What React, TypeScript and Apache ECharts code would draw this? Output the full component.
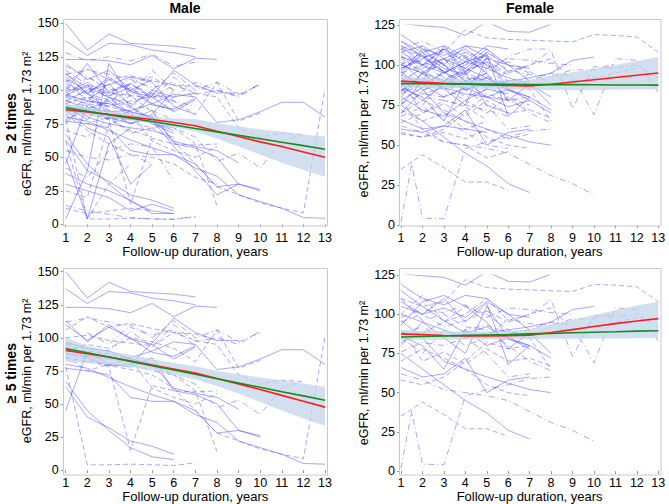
import React, { useEffect, useRef } from "react";
import * as echarts from "echarts";

type Pt = [number, number];

// ---------- individual trajectories (follow-up year, eGFR) ----------
const male5Lines: Pt[][] = [
  [[1,150],[2,130],[3,142],[4,135],[5,134],[6,133],[7,131]],
  [[1,137],[2,126],[3,135],[4,134],[5,130],[6,128],[7,125]],
  [[1,123],[2,123],[3,122],[4,119],[5,126],[6,116],[7,124],[8,123]],
  [[1,113],[2,97],[3,110],[4,99],[5,95],[6,84],[7,93]],
  [[1,110],[2,98],[3,108],[4,100],[5,89],[6,86],[7,94]],
  [[1,106],[2,116],[3,108],[4,111],[5,107],[6,104],[7,103],[8,98]],
  [[2,104],[3,95],[4,110],[5,100],[6,113],[7,100],[8,106],[9,97],[10,104]],
  [[1,90],[2,95],[3,92],[4,100],[5,97],[6,92],[7,82],[8,106],[9,77],[10,83]],
  [[1,88],[2,86],[3,84],[4,85],[5,90],[6,97],[7,95],[8,76],[9,78],[10,84],[11,91],[12,91],[13,80]],
  [[1,80],[2,77],[3,70],[4,63],[5,57],[6,52],[7,42],[8,36],[9,22],[10,17],[11,12],[12,5],[13,4.5]],
  [[1,85],[2,82],[3,79],[4,76],[5,72],[6,62],[7,45],[8,28],[9,22],[10,16],[11,12],[12,8.5],[13,101]],
  [[1,92],[2,88],[3,85],[4,80],[5,75],[6,72],[7,65],[8,47],[9,53],[10,42],[11,62],[12,67]],
  [[1,95],[2,90],[3,88],[4,84],[5,80],[6,72],[7,60],[8,14]],
  [[1,67],[2,45],[3,30],[4,17],[5,10],[6,8]],
  [[1,78],[2,4],[3,4],[4,4.5],[5,4],[6,3.5],[7,5.5]],
  [[1,63],[2,40],[3,32],[4,22],[5,18],[6,12]],
  [[1,88],[2,84],[3,78],[4,15],[5,64],[6,60],[7,59],[8,60]],
  [[1,77],[2,75],[3,72],[4,55],[5,52],[6,52],[7,45],[8,28],[9,30],[10,25]],
  [[1,96],[2,92],[3,90],[4,105],[5,93],[6,110],[7,97],[8,100],[9,95],[10,105]],
  [[1,100],[2,102],[3,98],[4,96],[5,94],[6,104],[7,98],[8,95],[9,72],[10,65],[11,68],[12,67]],
  [[1,45],[2,90],[3,80],[4,78],[5,85],[6,60],[7,57],[8,50],[9,30],[10,26]],
  [[1,97],[2,92],[3,90],[4,84],[5,80],[6,62],[7,58],[8,55],[9,46]],
  [[1,112],[2,115],[3,112],[4,108],[5,102],[6,106],[7,94]],
  [[1,93],[2,85],[3,79],[4,80],[5,96],[6,115],[7,104],[8,98],[9,98]],
  [[1,86],[2,75],[3,80],[4,84],[5,62],[6,55],[7,50],[8,58]],
];
const male5Dash = [0,0,0,0,0,1,2,1,0,0,1,2,1,0,1,0,1,0,2,1,0,0,2,0,1];

const male2Extra: Pt[][] = [
  [[1,128],[2,122],[3,125],[4,122],[5,127],[6,118],[7,121]],
  [[1,4],[2,40],[3,120],[4,95]],
  [[1,12],[2,8],[3,10],[4,12],[5,10]],
  [[1,14],[2,10],[4,5],[5,4],[6,4],[7,6]],
  [[1,38],[2,30],[3,25],[4,18],[5,8],[6,8]],
  [[1,50],[2,4],[3,60],[4,72]],
  [[1,62],[2,4],[3,30],[4,45]],
  [[1,100],[2,120],[3,98],[4,105],[5,95]],
  [[1,118],[2,110],[3,102],[4,96],[5,115],[6,100]],
  [[1,105],[2,98],[3,85],[4,75],[5,80]],
  [[1,95],[2,110],[3,100],[4,105],[5,110],[6,100]],
  [[1,90],[2,80],[3,75],[4,72],[5,70],[6,65]],
  [[1,108],[2,100],[3,95],[4,90],[5,85],[6,78]],
  [[1,75],[2,92],[3,105],[4,88],[5,100],[6,95],[7,98]],
  [[1,82],[2,70],[3,60],[4,52],[5,50],[6,45],[7,35],[8,30]],
  [[1,30],[2,25],[3,20],[4,10],[5,15],[6,10]],
  [[1,55],[2,50],[3,48],[4,52],[5,45]],
  [[1,112],[2,102],[3,95],[4,82],[5,75],[6,68]],
  [[1,99],[2,88],[3,78],[4,70],[5,65]],
  [[1,85],[2,72],[3,65],[4,30],[5,45]],
  [[1,102],[2,94],[3,88],[4,92],[5,96],[6,90]],
  [[1,120],[2,108],[3,115],[4,100],[5,108]],
  [[1,70],[2,65],[3,80],[4,68],[5,72],[6,75]],
  [[1,92],[2,100],[3,104],[4,110],[5,106],[6,88],[7,82]],
  [[1,42],[2,35],[3,55],[4,60],[5,58],[6,32]],
  [[1,96],[2,104],[3,80],[4,75],[5,82],[6,100]],
  [[1,25],[2,20],[3,75],[4,80]],
  [[5,80],[6,95],[7,106],[8,100],[9,96],[10,105]],
  [[1,88],[2,78],[3,95],[4,88],[5,78],[6,58],[7,40],[8,22],[9,30]],
  [[1,103],[2,97],[3,93],[4,87],[5,78]],
  [[1,98],[2,106],[3,96],[4,102],[5,90],[6,85]],
  [[1,84],[2,94],[3,100],[4,90],[5,98],[6,92],[7,88]],
  [[1,108],[2,92],[3,88],[4,96],[5,84]],
  [[1,78],[2,86],[3,92],[4,80],[5,76],[6,70]],
  [[1,115],[2,104],[3,99],[4,104],[5,98],[6,94]],
];
const male2ExtraDash = [2,0,1,2,0,0,1,0,2,0,1,0,2,0,1,0,2,0,1,0,2,0,1,0,2,0,1,2,0,1,0,2,1,0,2];

const female5Lines: Pt[][] = [
  [[1,126],[2,124.5],[3,123.5],[4,118.5],[5,127],[6,121],[7,120.5],[8,125.5]],
  [[1,110],[2,105],[3,108],[4,122],[5,117],[6,116],[7,115.5],[8,115],[9,114.5],[10,119],[11,118.5],[12,117.5],[13,108]],
  [[1,2],[1.5,38],[2,4.5],[3,4],[4,48],[5,52],[6,55],[7,59],[8,60]],
  [[1,35],[2,44],[3,36],[4,27],[5,27],[6,22]],
  [[1,62],[2,58],[3,52],[4,50],[5,48],[6,45],[7,38],[8,31],[9,26],[10,19]],
  [[1,75],[2,65],[3,55],[4,45],[5,37],[6,26],[7,20.5]],
  [[1,95],[2,100],[3,92],[4,96],[5,102],[6,95],[7,100],[8,109],[9,73],[10,99],[11,98],[12,100],[13,92]],
  [[1,88],[2,92],[3,85],[4,90],[5,93],[6,88],[7,90],[8,95],[9,93],[10,69],[11,104],[12,103],[13,83]],
  [[1,119],[2,110],[3,106],[4,112],[5,110],[6,100],[7,98]],
  [[1,105],[2,100],[3,110],[4,95],[5,107],[6,68],[7,80],[8,72]],
  [[1,100],[2,112],[3,95],[4,105],[5,100],[6,90],[7,85],[8,65]],
  [[1,80],[2,95],[3,85],[4,75],[5,105],[6,85],[7,80]],
  [[1,85],[2,75],[3,90],[4,80],[5,85],[6,97],[7,94],[8,93],[9,97],[10,97],[11,101]],
  [[1,96],[2,85],[3,70],[4,65],[5,60],[6,56],[7,52],[8,50]],
  [[1,70],[2,78],[3,72],[4,65],[5,55],[6,50],[7,48]],
  [[1,93],[2,108],[3,112],[4,105],[5,95],[6,78],[7,88],[8,75]],
  [[1,76],[2,82],[3,80],[4,85],[5,75],[6,60],[7,62]],
  [[1,108],[2,100],[3,104],[4,98],[5,108],[6,100],[7,90]],
  [[1,58],[2,55],[3,60],[4,70],[5,82],[6,78],[7,80]],
  [[1,86],[2,80],[3,65],[4,90],[5,80],[6,85],[7,78]],
  [[1,98],[2,103],[3,101],[4,106],[5,98],[6,104],[7,103],[8,101],[9,100]],
  [[1,115],[2,105],[3,96],[4,88],[5,92],[6,84],[7,80]],
  [[1,82],[2,88],[3,95],[4,100],[5,110],[6,96],[7,100],[8,104],[9,90],[10,92],[11,95],[12,98]],
  [[1,66],[2,60],[3,62],[4,72],[5,50],[6,58],[7,60]],
  [[1,110],[2,96],[3,100],[4,92],[5,90],[6,80],[7,70],[8,64]],
  [[1,90],[2,70],[3,76],[4,68],[5,78],[6,70],[7,72],[8,67]],
  [[1,100],[2,95],[3,90],[4,85],[5,88],[6,90],[7,92],[8,95],[9,103],[10,105]],
];
const female5Dash = [0,1,2,1,2,0,2,2,0,0,1,0,2,0,1,0,2,0,1,0,2,0,1,0,2,1,0];

const female2Extra: Pt[][] = [
  [[1,60],[2,58],[3,62],[4,60],[5,58]],
  [[1,57],[2,55],[3,58],[4,54],[5,60],[6,54],[7,57]],
  [[1,110],[2,115],[3,108],[4,100],[5,104]],
  [[1,95],[2,110],[3,100],[4,112],[5,105]],
  [[1,72],[2,65],[3,70],[4,60],[5,65]],
  [[1,102],[2,90],[3,112],[4,96],[5,108]],
  [[1,85],[2,80],[3,78],[4,75],[5,72],[6,68]],
  [[1,115],[2,108],[3,100],[4,90],[5,95]],
  [[1,90],[2,98],[3,104],[4,95],[5,90],[6,85]],
  [[1,75],[2,90],[3,86],[4,82],[5,80],[6,78]],
  [[1,100],[2,95],[3,85],[4,100],[5,110]],
  [[1,80],[2,72],[3,68],[4,78],[5,85],[6,82]],
  [[1,105],[2,102],[3,96],[4,108],[5,104],[6,100],[7,95]],
  [[1,88],[2,78],[3,88],[4,95],[5,75],[6,70]],
  [[1,68],[2,74],[3,66],[4,58],[5,50],[6,48]],
  [[1,97],[2,106],[3,95],[4,102],[5,98],[6,92],[7,88],[8,80]],
  [[1,78],[2,60],[3,52],[4,50],[5,42],[6,46]],
  [[1,108],[2,112],[3,104],[4,110],[5,100]],
  [[1,92],[2,84],[3,92],[4,88],[5,95],[6,105],[7,110],[8,110]],
  [[1,83],[2,95],[3,104],[4,90],[5,86],[6,90]],
  [[1,64],[2,70],[3,78],[4,74],[5,66]],
  [[1,112],[2,100],[3,95],[4,102],[5,112],[6,110]],
  [[1,87],[2,100],[3,110],[4,104],[5,96]],
  [[1,94],[2,88],[3,80],[4,86],[5,80],[6,74],[7,78],[8,70]],
  [[1,104],[2,96],[3,90],[4,96],[5,102],[6,84],[7,95]],
  [[1,98],[2,104],[3,110],[4,102],[5,106],[6,96]],
  [[1,84],[2,92],[3,80],[4,94],[5,88],[6,78],[7,72]],
  [[1,106],[2,94],[3,102],[4,108],[5,100],[6,94]],
  [[1,78],[2,86],[3,96],[4,84],[5,92],[6,86]],
  [[1,112],[2,106],[3,98],[4,94],[5,104]],
  [[1,90],[2,82],[3,86],[4,78],[5,70],[6,80],[7,75]],
  [[1,100],[2,108],[3,92],[4,86],[5,98],[6,102],[7,96],[8,88]],
  [[1,70],[2,84],[3,90],[4,98],[5,92]],
];
const female2ExtraDash = [0,1,2,0,1,0,2,0,1,0,2,0,1,0,2,0,1,0,2,0,1,0,2,0,1,0,2,1,0,0,1,2,0];

// ---------- fitted curves and confidence bands ----------
const years = [1,2,3,4,5,6,7,8,9,10,11,12,13];

const male2Red = [85.5,83.8,82,80,78.2,76,73.5,69.5,65.5,61.5,58,54,50];
const male2Green = [87,84.4,81.8,79.2,76.7,74.1,71.5,69,66.4,63.8,61.2,58.7,56];
const male2Lo = [82,81,79.5,77.5,75.5,72.5,69,64,58,52,46,40.5,35.5];
const male2Hi = [90,87,84.5,82.5,80.5,79,78.5,75.5,73,71,69,67,65.5];

const female2Red = [90,89.2,88.6,88.1,87.6,87.2,87,88,89.4,90.8,92.2,93.6,95];
const female2Green = [88.4,88.3,88.2,88.1,88.1,88,87.9,87.8,87.8,87.7,87.6,87.6,87.5];
const female2Lo = [86,85.8,85.5,85.3,85,84.8,84.5,84.5,84.5,84.5,84.6,84.7,84.8];
const female2Hi = [93,92,91.5,91,90.5,90.3,90.5,93.5,95.5,97.5,100,102.5,105];

const male5Red = [90.5,88,85.5,82.5,79.5,76.5,73.3,69.3,65.2,61,56.5,52,47.6];
const male5Green = [92,88.7,85.5,82.2,78.9,75.7,72.4,69.1,65.9,62.6,59.3,56.1,52.8];
const male5Lo = [82,81,80,78,75.5,72,68.5,63.5,58,51.5,45,39,33.5];
const male5Hi = [100,94,90,87,84,81,78.5,75,72.5,70,68,65.5,63];

const female5Red = [87.5,87,86.4,86.2,86.2,86.3,86.7,88.3,90.2,92.2,94,95.7,97.2];
const female5Green = [85.5,85.8,86.1,86.5,86.8,87.1,87.5,87.8,88.2,88.5,88.8,89.2,89.5];
const female5Lo = [83.5,83.7,83.8,84,84,84.1,84.2,84.3,84.4,84.5,84.6,84.7,84.8];
const female5Hi = [90,89.5,89.2,89,89,89.3,90.3,93.5,96.5,99.5,102.5,105.5,108];

const FONT = "'Liberation Sans', Arial, Helvetica, sans-serif";
const LINE = "rgba(60,60,255,0.45)";
const BAND = "rgba(192,210,233,0.72)";
const DASHES: any[] = ["solid", [5, 3], [6, 3, 1, 3]];

// panel geometry (pixel layout)
const panels = [
  { left: 65.7, top: 23.3, width: 259.3, height: 201, max: 150, frame: [63.5, 19.5, 264, 206.5], xOff: 2, yOff: 2, nameGapY: 26, lblMargin: 5, nameGapX: 16 },
  { left: 401, top: 25, width: 257.3, height: 200.3, max: 125, frame: [399.5, 19.5, 261.5, 206.5], xOff: 1, yOff: 1, nameGapY: 22, lblMargin: 5, nameGapX: 16 },
  { left: 65.7, top: 271.7, width: 259.3, height: 201.6, max: 150, frame: [63.5, 268.5, 264, 206.5], xOff: 2, yOff: 2, nameGapY: 26, lblMargin: 4, nameGapX: 15.5 },
  { left: 401, top: 275, width: 257.3, height: 199, max: 125, frame: [399.5, 268.5, 261.5, 206.5], xOff: 1, yOff: 1, nameGapY: 22, lblMargin: 4, nameGapX: 15.5 },
];

function spaghetti(lines: Pt[][], dash: number[], gi: number) {
  return lines.map((p, i) => ({
    type: "line",
    xAxisIndex: gi,
    yAxisIndex: gi,
    data: p,
    symbol: "none",
    silent: true,
    z: 2,
    lineStyle: { width: 1, color: LINE, type: DASHES[dash[i] ?? 0] },
  }));
}

function band(lo: number[], hi: number[], gi: number) {
  return {
    type: "custom",
    xAxisIndex: gi,
    yAxisIndex: gi,
    silent: true,
    z: 3,
    data: [[1, 0]],
    renderItem: (_params: any, api: any) => {
      const up = years.map((x, i) => api.coord([x, hi[i]]));
      const dn = years.map((x, i) => api.coord([x, lo[i]])).reverse();
      return { type: "polygon", shape: { points: up.concat(dn) }, style: { fill: BAND } };
    },
  };
}

function fit(vals: number[], color: string, gi: number) {
  return {
    type: "line",
    xAxisIndex: gi,
    yAxisIndex: gi,
    data: years.map((x, i) => [x, vals[i]]),
    symbol: "none",
    silent: true,
    z: 4,
    lineStyle: { width: 1.6, color },
  };
}

export default function App() {
  const ref = useRef<HTMLDivElement>(null);
  useEffect(() => {
    if (!ref.current) return;
    const chart = echarts.init(ref.current, undefined, { renderer: "svg" });

    const male2 = male5Lines.concat(male2Extra);
    const male2Dash = male5Dash.concat(male2ExtraDash);
    const female2 = female5Lines.concat(female2Extra);
    const female2Dash = female5Dash.concat(female2ExtraDash);

    const series: any[] = [
      ...spaghetti(male2, male2Dash, 0),
      ...spaghetti(female2, female2Dash, 1),
      ...spaghetti(male5Lines, male5Dash, 2),
      ...spaghetti(female5Lines, female5Dash, 3),
      band(male2Lo, male2Hi, 0),
      band(female2Lo, female2Hi, 1),
      band(male5Lo, male5Hi, 2),
      band(female5Lo, female5Hi, 3),
      fit(male2Red, "#ff1c1c", 0), fit(male2Green, "#1a8a1a", 0),
      fit(female2Red, "#ff1c1c", 1), fit(female2Green, "#1a8a1a", 1),
      fit(male5Red, "#ff1c1c", 2), fit(male5Green, "#1a8a1a", 2),
      fit(female5Red, "#ff1c1c", 3), fit(female5Green, "#1a8a1a", 3),
    ];

    const grid = panels.map((p) => ({ left: p.left, top: p.top, width: p.width, height: p.height, containLabel: false }));
    const xAxis = panels.map((p, i) => ({
      gridIndex: i, type: "value", min: 1, max: 13, interval: 1, offset: p.xOff,
      axisLine: { show: false },
      axisTick: { show: true, length: 3, lineStyle: { color: "#9a9a9a" } },
      axisLabel: { fontSize: 12.5, color: "#000", margin: p.lblMargin, fontFamily: FONT },
      splitLine: { show: false },
      name: "Follow-up duration, years", nameLocation: "middle", nameGap: p.nameGapX,
      nameTextStyle: { fontSize: 13, color: "#000", fontFamily: FONT },
    }));
    const yAxis = panels.map((p, i) => ({
      gridIndex: i, type: "value", min: 0, max: p.max, interval: 25, offset: p.yOff,
      axisLine: { show: false },
      axisTick: { show: true, length: 3, lineStyle: { color: "#9a9a9a" } },
      axisLabel: { fontSize: 12.5, color: "#000", margin: 5, fontFamily: FONT },
      splitLine: { show: false },
      name: "eGFR, ml/min per 1.73 m²", nameLocation: "middle", nameGap: p.nameGapY,
      nameTextStyle: { fontSize: 12.5, color: "#000", fontFamily: FONT },
    }));

    const frames = panels.map((p) => ({
      type: "rect", silent: true, z: 10,
      shape: { x: p.frame[0], y: p.frame[1], width: p.frame[2], height: p.frame[3] },
      style: { fill: "none", stroke: "#c8c8c8", lineWidth: 1 },
    }));
    const txt = (text: string, x: number, y: number, rot: number) => ({
      type: "text", x, y, rotation: rot, silent: true, z: 10,
      style: {
        text, font: `bold 14px ${FONT}`, fill: "#000",
        align: "center", verticalAlign: "middle", textAlign: "center", textVerticalAlign: "middle",
      },
    });

    chart.setOption({
      animation: false,
      backgroundColor: "#fff",
      grid, xAxis, yAxis, series,
      graphic: [
        ...frames,
        txt("Male", 185, 8, 0),
        txt("Female", 530, 8, 0),
        txt("≥ 2 times", 11, 123, Math.PI / 2),
        txt("≥ 5 times", 11, 373, Math.PI / 2),
      ],
    });
    return () => chart.dispose();
  }, []);
  return <div ref={ref} style={{ position: "fixed", left: 0, top: 0, width: 669, height: 504 }} />;
}
